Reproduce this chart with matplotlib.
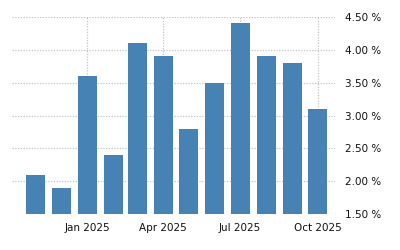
import matplotlib
matplotlib.use("Agg")
import matplotlib.pyplot as plt
import matplotlib.dates as mdates
import datetime as dt

# monthly values, Nov 2024 - Oct 2025
months = ["2024-11", "2024-12", "2025-01", "2025-02", "2025-03", "2025-04",
          "2025-05", "2025-06", "2025-07", "2025-08", "2025-09", "2025-10"]
values = [2.1, 1.9, 3.6, 2.4, 4.1, 3.9, 2.8, 3.5, 4.4, 3.9, 3.8, 3.1]
yticks = [1.5, 2.0, 2.5, 3.0, 3.5, 4.0, 4.5]
xticks = ["2025-01", "2025-04", "2025-07", "2025-10"]

dates = [dt.datetime.strptime(m, "%Y-%m") for m in months]
tick_dates = [dt.datetime.strptime(m, "%Y-%m") for m in xticks]

fig = plt.figure(figsize=(4, 2.5), dpi=100)
ax = fig.add_axes([0.03, 0.143, 0.807, 0.79])

ax.bar(dates, [v - 1.5 for v in values], bottom=1.5, width=22.5,
       color="#4682b4", zorder=2)

ax.set_ylim(1.5, 4.5)
ax.set_xlim(dt.datetime(2024, 10, 4), dt.datetime(2025, 10, 21))
ax.set_yticks(yticks)
ax.set_yticklabels([f"{t:.2f} %" for t in yticks])
ax.set_xticks(tick_dates)
ax.xaxis.set_major_formatter(mdates.DateFormatter("%b %Y"))

ax.yaxis.tick_right()
ax.tick_params(axis="both", length=0, labelsize=7.5, colors="#111111")
ax.tick_params(axis="y", pad=7)
ax.tick_params(axis="x", pad=6)
ax.grid(True, color="#c4c4c4", linestyle=(0, (1, 1.2)), linewidth=0.9, zorder=0)
for s in ax.spines.values():
    s.set_visible(False)

fig.savefig("out.png", dpi=100)
